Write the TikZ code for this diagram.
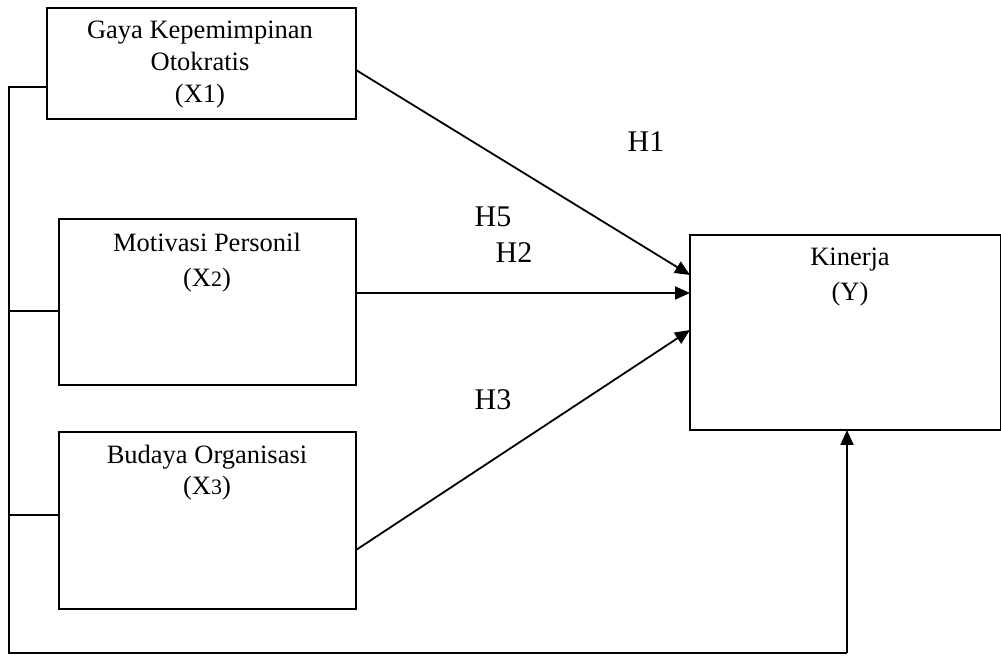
\documentclass[tikz,border=0pt]{standalone}
\usepackage{fontspec}
\setmainfont{Liberation Serif}
\usetikzlibrary{arrows.meta}
\tikzset{
  box/.style={draw, line width=1pt, inner sep=0pt, outer sep=0pt, anchor=north west},
  lbl/.style={align=center, inner sep=0pt, font=\fontsize{13.25}{16}\selectfont},
  hlbl/.style={inner sep=0pt, font=\fontsize{15}{18}\selectfont},
  conn/.style={line width=0.9pt},
  arr/.style={line width=0.9pt, -{Triangle[length=7.5pt,width=6.5pt]}},
}
\newcommand{\smalldig}[1]{{\fontsize{11}{13}\selectfont #1}}
\begin{document}
\begin{tikzpicture}[x=0.5pt,y=-0.5pt]
\useasboundingbox (0,0) rectangle (1001,657);
% boxes
\node[box, minimum width=154.5pt, minimum height=55.5pt] (x1) at (47,8) {};
\node[box, minimum width=148.5pt, minimum height=83pt] (x2) at (59,219) {};
\node[box, minimum width=148.5pt, minimum height=88.5pt] (x3) at (59,432) {};
\node[box, minimum width=155.5pt, minimum height=97.5pt] (y) at (690,235) {};
% texts
\node[lbl] (tx1) at (200,65) {Gaya Kepemimpinan\\Otokratis\\(X1)};
\node[lbl, font=\fontsize{13.25}{17.5}\selectfont] (tx2) at (207,262.5) {Motivasi Personil\\(X\smalldig{2})};
\node[lbl, font=\fontsize{13.25}{15.5}\selectfont] (tx3) at (207,472.5) {Budaya Organisasi\\(X\smalldig{3})};
\node[lbl, font=\fontsize{13.25}{17.5}\selectfont] (ty) at (850,277.5) {Kinerja\\(Y)};
% hypothesis labels
\node[hlbl] (h1) at (646,142) {H1};
\node[hlbl] (h5) at (493,217) {H5};
\node[hlbl] (h2) at (514,253) {H2};
\node[hlbl] (h3) at (493,400) {H3};
% bus
\coordinate (c1) at (9,87);
\coordinate (c2) at (9,653);
\coordinate (c3) at (847,653);
\draw[conn] (x1.west |- 0,87) -- (c1) -- (c2) -- (c3);
\draw[arr] (c3) -- (y.south -| c3);
\draw[conn] (x2.west |- 0,311) -- (c1 |- 0,311);
\draw[conn] (x3.west |- 0,515) -- (c1 |- 0,515);
% arrows to Y
\draw[arr] (x1.east |- 0,70) -- (y.west |- 0,275);
\draw[arr] (x2.east |- 0,293) -- (y.west |- 0,293);
\draw[arr] (x3.east |- 0,550) -- (y.west |- 0,330);
\end{tikzpicture}
\end{document}
